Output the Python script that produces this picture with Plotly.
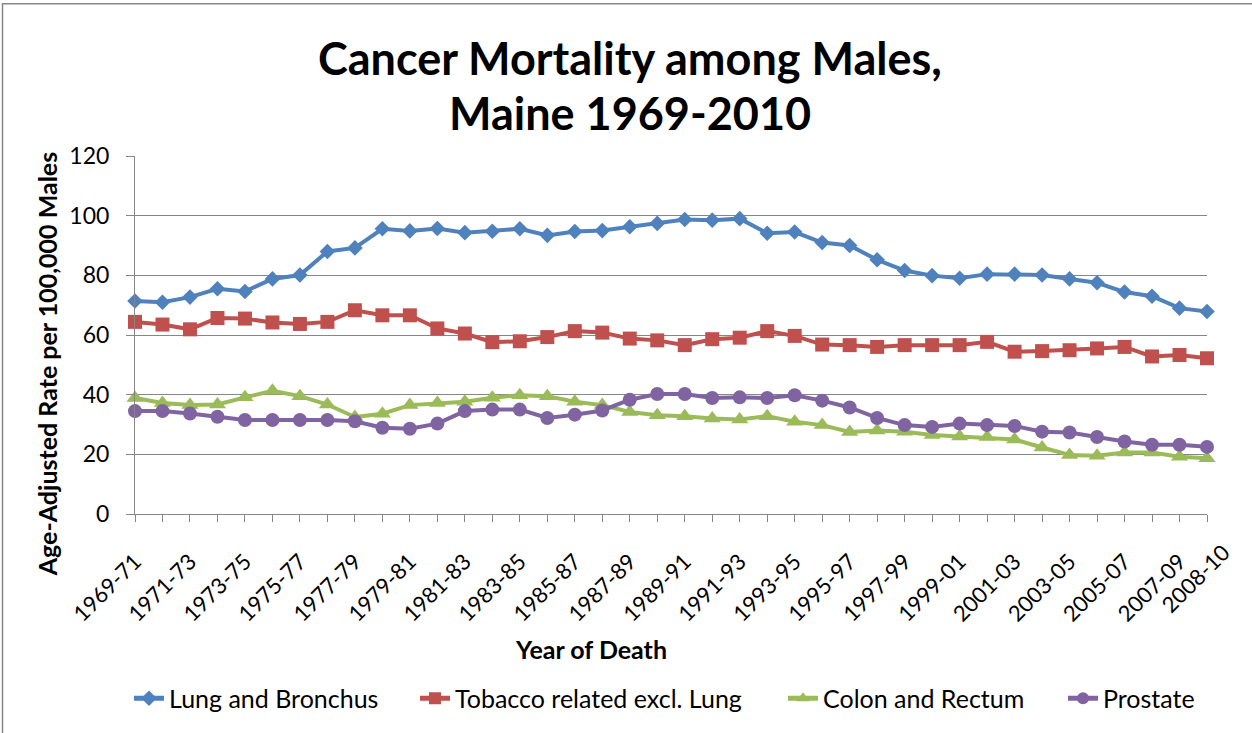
import plotly.graph_objects as go

categories = ["1969-71", "1970-72", "1971-73", "1972-74", "1973-75", "1974-76", "1975-77", "1976-78",
              "1977-79", "1978-80", "1979-81", "1980-82", "1981-83", "1982-84", "1983-85", "1984-86",
              "1985-87", "1986-88", "1987-89", "1988-90", "1989-91", "1990-92", "1991-93", "1992-94",
              "1993-95", "1994-96", "1995-97", "1996-98", "1997-99", "1998-00", "1999-01", "2000-02",
              "2001-03", "2002-04", "2003-05", "2004-06", "2005-07", "2006-08", "2007-09", "2008-10"]

shown_labels = ["1969-71", "1971-73", "1973-75", "1975-77", "1977-79", "1979-81", "1981-83", "1983-85",
                "1985-87", "1987-89", "1989-91", "1991-93", "1993-95", "1995-97", "1997-99", "1999-01",
                "2001-03", "2003-05", "2005-07", "2007-09"]
last_label = "2008-10"

lung = [71.4, 71.0, 72.7, 75.5, 74.6, 78.8, 80.1, 88.0, 89.2, 95.6,
        94.9, 95.7, 94.3, 94.8, 95.6, 93.4, 94.7, 95.0, 96.3, 97.4,
        98.7, 98.5, 99.0, 94.1, 94.5, 91.0, 90.0, 85.2, 81.6, 79.9,
        79.0, 80.4, 80.4, 80.1, 78.8, 77.5, 74.4, 73.0, 69.0, 67.9]

tobacco = [64.4, 63.5, 61.9, 65.7, 65.5, 64.2, 63.7, 64.4, 68.3, 66.6,
           66.6, 62.2, 60.5, 57.6, 57.9, 59.3, 61.3, 60.8, 58.8, 58.2,
           56.6, 58.6, 59.1, 61.3, 59.7, 56.8, 56.6, 56.0, 56.6, 56.6,
           56.6, 57.7, 54.4, 54.6, 54.9, 55.5, 56.0, 52.8, 53.3, 52.2]

colon = [38.9, 37.2, 36.5, 36.7, 39.1, 41.3, 39.5, 36.7, 32.5, 33.6,
         36.5, 37.2, 37.6, 39.0, 39.8, 39.5, 37.6, 36.5, 34.2, 33.1,
         32.8, 32.0, 31.7, 32.8, 30.9, 29.8, 27.5, 28.0, 27.6, 26.5,
         26.0, 25.8, 25.0, 22.3, 19.8, 19.5, 20.6, 20.6, 19.2, 18.7]

prostate = [34.5, 34.5, 33.7, 32.6, 31.5, 31.5, 31.5, 31.5, 31.1, 28.9,
            28.6, 30.3, 34.5, 35.0, 35.0, 32.2, 33.3, 34.7, 38.3, 40.2,
            40.2, 38.9, 39.1, 38.9, 39.8, 38.0, 35.7, 32.2, 29.8, 29.2,
            30.3, 29.8, 29.5, 27.6, 27.3, 25.8, 24.3, 23.2, 23.2, 22.5]

series_names = ["Lung and Bronchus", "Tobacco related excl. Lung", "Colon and Rectum", "Prostate"]
series_values = [lung, tobacco, colon, prostate]
colors = ["#4F81BD", "#C0504D", "#9BBB59", "#8064A2"]
symbols = ["diamond", "square", "triangle-up", "circle"]
msizes = [12, 14, 15, 14]
legend_ids = ["legend", "legend2", "legend3", "legend4"]
legend_text_x = [169, 455, 823, 1103]   # pixel x where each legend label starts

FONT = "Lato, 'Open Sans', sans-serif"
GRAY = "#868686"
FS = 25
TFS = 22

fig = go.Figure()
for name, vals, c, s, ms, lg in zip(series_names, series_values, colors, symbols, msizes, legend_ids):
    fig.add_trace(go.Scatter(
        x=categories, y=vals, name=name, mode="lines+markers",
        line=dict(color=c, width=4),
        marker=dict(symbol=s, size=ms, color=c, line=dict(width=0)),
        cliponaxis=False, legend=lg,
    ))

ticktext = [c if c in shown_labels else "" for c in categories]

# plot area: x 135..1207, y 156..517
L, R, T, B = 135, 1207, 156, 517
W, H = R - L, B - T

def px(x):
    return (x - L) / W

def py(y):
    return (B - y) / H

legends = {}
for lg, tx in zip(legend_ids, legend_text_x):
    legends[lg] = dict(orientation="h", x=px(tx - 40), y=py(703), xanchor="left", yanchor="middle",
                       font=dict(size=FS, family=FONT), bgcolor="rgba(0,0,0,0)", borderwidth=0,
                       itemsizing="constant")

fig.update_layout(
    width=1252, height=733,
    margin=dict(l=L, r=1252 - R, t=T, b=733 - B),
    paper_bgcolor="white", plot_bgcolor="white",
    font=dict(family=FONT, size=FS, color="black"),
    showlegend=True,
    xaxis=dict(
        type="category", range=[0, len(categories) - 1],
        tickmode="array", tickvals=categories, ticktext=ticktext,
        tickangle=-45, ticks="outside", ticklen=7, tickcolor=GRAY,
        showline=True, linecolor=GRAY, linewidth=1,
        showgrid=False, zeroline=False,
        tickfont=dict(size=TFS, family=FONT),
        ticklabelstandoff=18,
    ),
    yaxis=dict(
        range=[0, 120], dtick=20, tick0=0,
        ticks="outside", ticklen=8, tickcolor=GRAY,
        showline=True, linecolor=GRAY, linewidth=1,
        showgrid=True, gridcolor=GRAY, gridwidth=1, zeroline=False,
        tickfont=dict(size=TFS + 1, family=FONT),
        ticklabelstandoff=12,
    ),
    annotations=[
        dict(text="<b>Cancer Mortality among Males,</b>", x=px(630), y=py(57), xref="paper", yref="paper",
             showarrow=False, xanchor="center", yanchor="middle", font=dict(size=45, family=FONT)),
        dict(text="<b>Maine 1969-2010</b>", x=px(630), y=py(113), xref="paper", yref="paper",
             showarrow=False, xanchor="center", yanchor="middle", font=dict(size=45, family=FONT)),
        dict(text="<b>Age-Adjusted Rate per 100,000 Males</b>", x=px(47), y=py(366), xref="paper", yref="paper",
             showarrow=False, xanchor="center", yanchor="middle", textangle=-90, font=dict(size=FS, family=FONT)),
        dict(text="<b>Year of Death</b>", x=px(591), y=py(653), xref="paper", yref="paper",
             showarrow=False, xanchor="center", yanchor="middle", font=dict(size=FS, family=FONT)),
        dict(text=last_label, x=last_label, xref="x", xshift=-12, y=py(582), yref="paper",
             showarrow=False, xanchor="center", yanchor="middle", textangle=-45,
             font=dict(size=TFS, family=FONT)),
    ],
    shapes=[
        dict(type="rect", xref="paper", yref="paper", x0=px(2.5), y0=py(745), x1=px(1262), y1=py(2.5),
             line=dict(color=GRAY, width=1.5), fillcolor="rgba(0,0,0,0)", layer="below"),
    ],
    **legends,
)

fig.write_html("out.html", config={"displayModeBar": False},
               post_script="document.body.style.margin='0';document.body.style.overflow='hidden';")
